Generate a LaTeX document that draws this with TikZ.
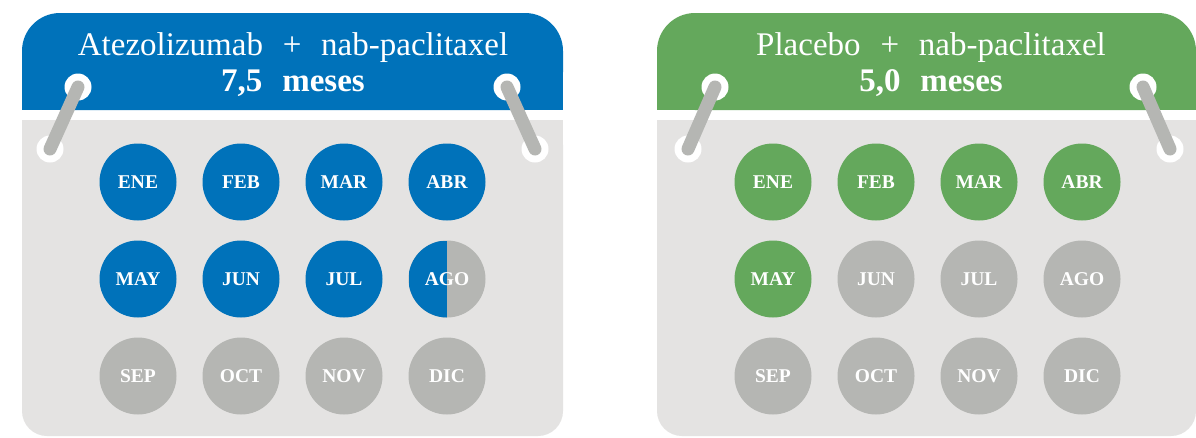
\documentclass[tikz,border=0pt]{standalone}
\usepackage{fontspec}
\setmainfont{Liberation Serif}
\usepackage{tikz}
\definecolor{atezo}{HTML}{0072BA}
\definecolor{placebo}{HTML}{64A85C}
\definecolor{sheet}{HTML}{E4E3E2}
\definecolor{off}{HTML}{B5B6B3}
\tikzset{
  head/.style={rounded corners=38pt},
  pagebox/.style={fill=sheet, rounded corners=25pt},
  hole/.style={circle, fill=white, inner sep=0pt, minimum size=27pt},
  bar/.style={draw=off, line width=13pt, line cap=round},
  month/.style={circle, inner sep=0pt, minimum size=77pt, text=white, font=\fontsize{19.5}{19.5}\selectfont\bfseries},
  title/.style={text=white, font=\fontsize{33}{37}\selectfont, anchor=base, execute at begin node=\spaceskip0.6em\relax},
  span/.style={title, font=\fontsize{33}{37}\selectfont\bfseries},
}
\begin{document}
\begin{tikzpicture}[x=1pt, y=-1pt]
  \useasboundingbox[fill=white] (0,0) rectangle (1196,437);
  % atezolizumab
  \fill[atezo, head] (22,13) rectangle (563,110);
  \fill[atezo] (22,60) rectangle (563,110);
  \fill[pagebox] (22,120) rectangle (563,436);
  \fill[sheet] (22,120) rectangle (563,200);
  \node[title] (a-name) at (293,55) {Atezolizumab + nab-paclitaxel};
  \node[span] (a-time) at (293,91) {7,5 meses};
  \node[hole] (a-h1) at (78,87) {};
  \node[hole] (a-h2) at (50,149) {};
  \node[hole] (a-h3) at (507,87) {};
  \node[hole] (a-h4) at (535,149) {};
  \draw[bar] (a-h1.center) -- (a-h2.center);
  \draw[bar] (a-h3.center) -- (a-h4.center);
  \foreach \m [count=\i from 0] in {ENE,FEB,MAR,ABR,MAY,JUN,JUL,AGO,SEP,OCT,NOV,DIC} {
    \pgfmathtruncatemacro\c{mod(\i,4)}
    \pgfmathtruncatemacro\r{div(\i,4)}
    \ifnum\i<7 \def\f{atezo}\else\def\f{off}\fi
    \node[month, fill=\f, path picture={\ifnum\i=7
      \fill[atezo] (path picture bounding box.south west) rectangle (path picture bounding box.north);\fi}]
      (a-\m) at (138+103*\c, 182+97*\r) {\m};
  }
  % placebo
  \fill[placebo, head] (657,13) rectangle (1196,110);
  \fill[placebo] (657,60) rectangle (1196,110);
  \fill[pagebox] (657,120) rectangle (1196,436);
  \fill[sheet] (657,120) rectangle (1196,200);
  \node[title] (p-name) at (931,55) {Placebo + nab-paclitaxel};
  \node[span] (p-time) at (931,91) {5,0 meses};
  \node[hole] (p-h1) at (715,87) {};
  \node[hole] (p-h2) at (688,149) {};
  \node[hole] (p-h3) at (1143,87) {};
  \node[hole] (p-h4) at (1170,149) {};
  \draw[bar] (p-h1.center) -- (p-h2.center);
  \draw[bar] (p-h3.center) -- (p-h4.center);
  \foreach \m [count=\i from 0] in {ENE,FEB,MAR,ABR,MAY,JUN,JUL,AGO,SEP,OCT,NOV,DIC} {
    \pgfmathtruncatemacro\c{mod(\i,4)}
    \pgfmathtruncatemacro\r{div(\i,4)}
    \ifnum\i<5 \def\f{placebo}\else\def\f{off}\fi
    \node[month, fill=\f] (p-\m) at (773+103*\c, 182+97*\r) {\m};
  }
\end{tikzpicture}
\end{document}
